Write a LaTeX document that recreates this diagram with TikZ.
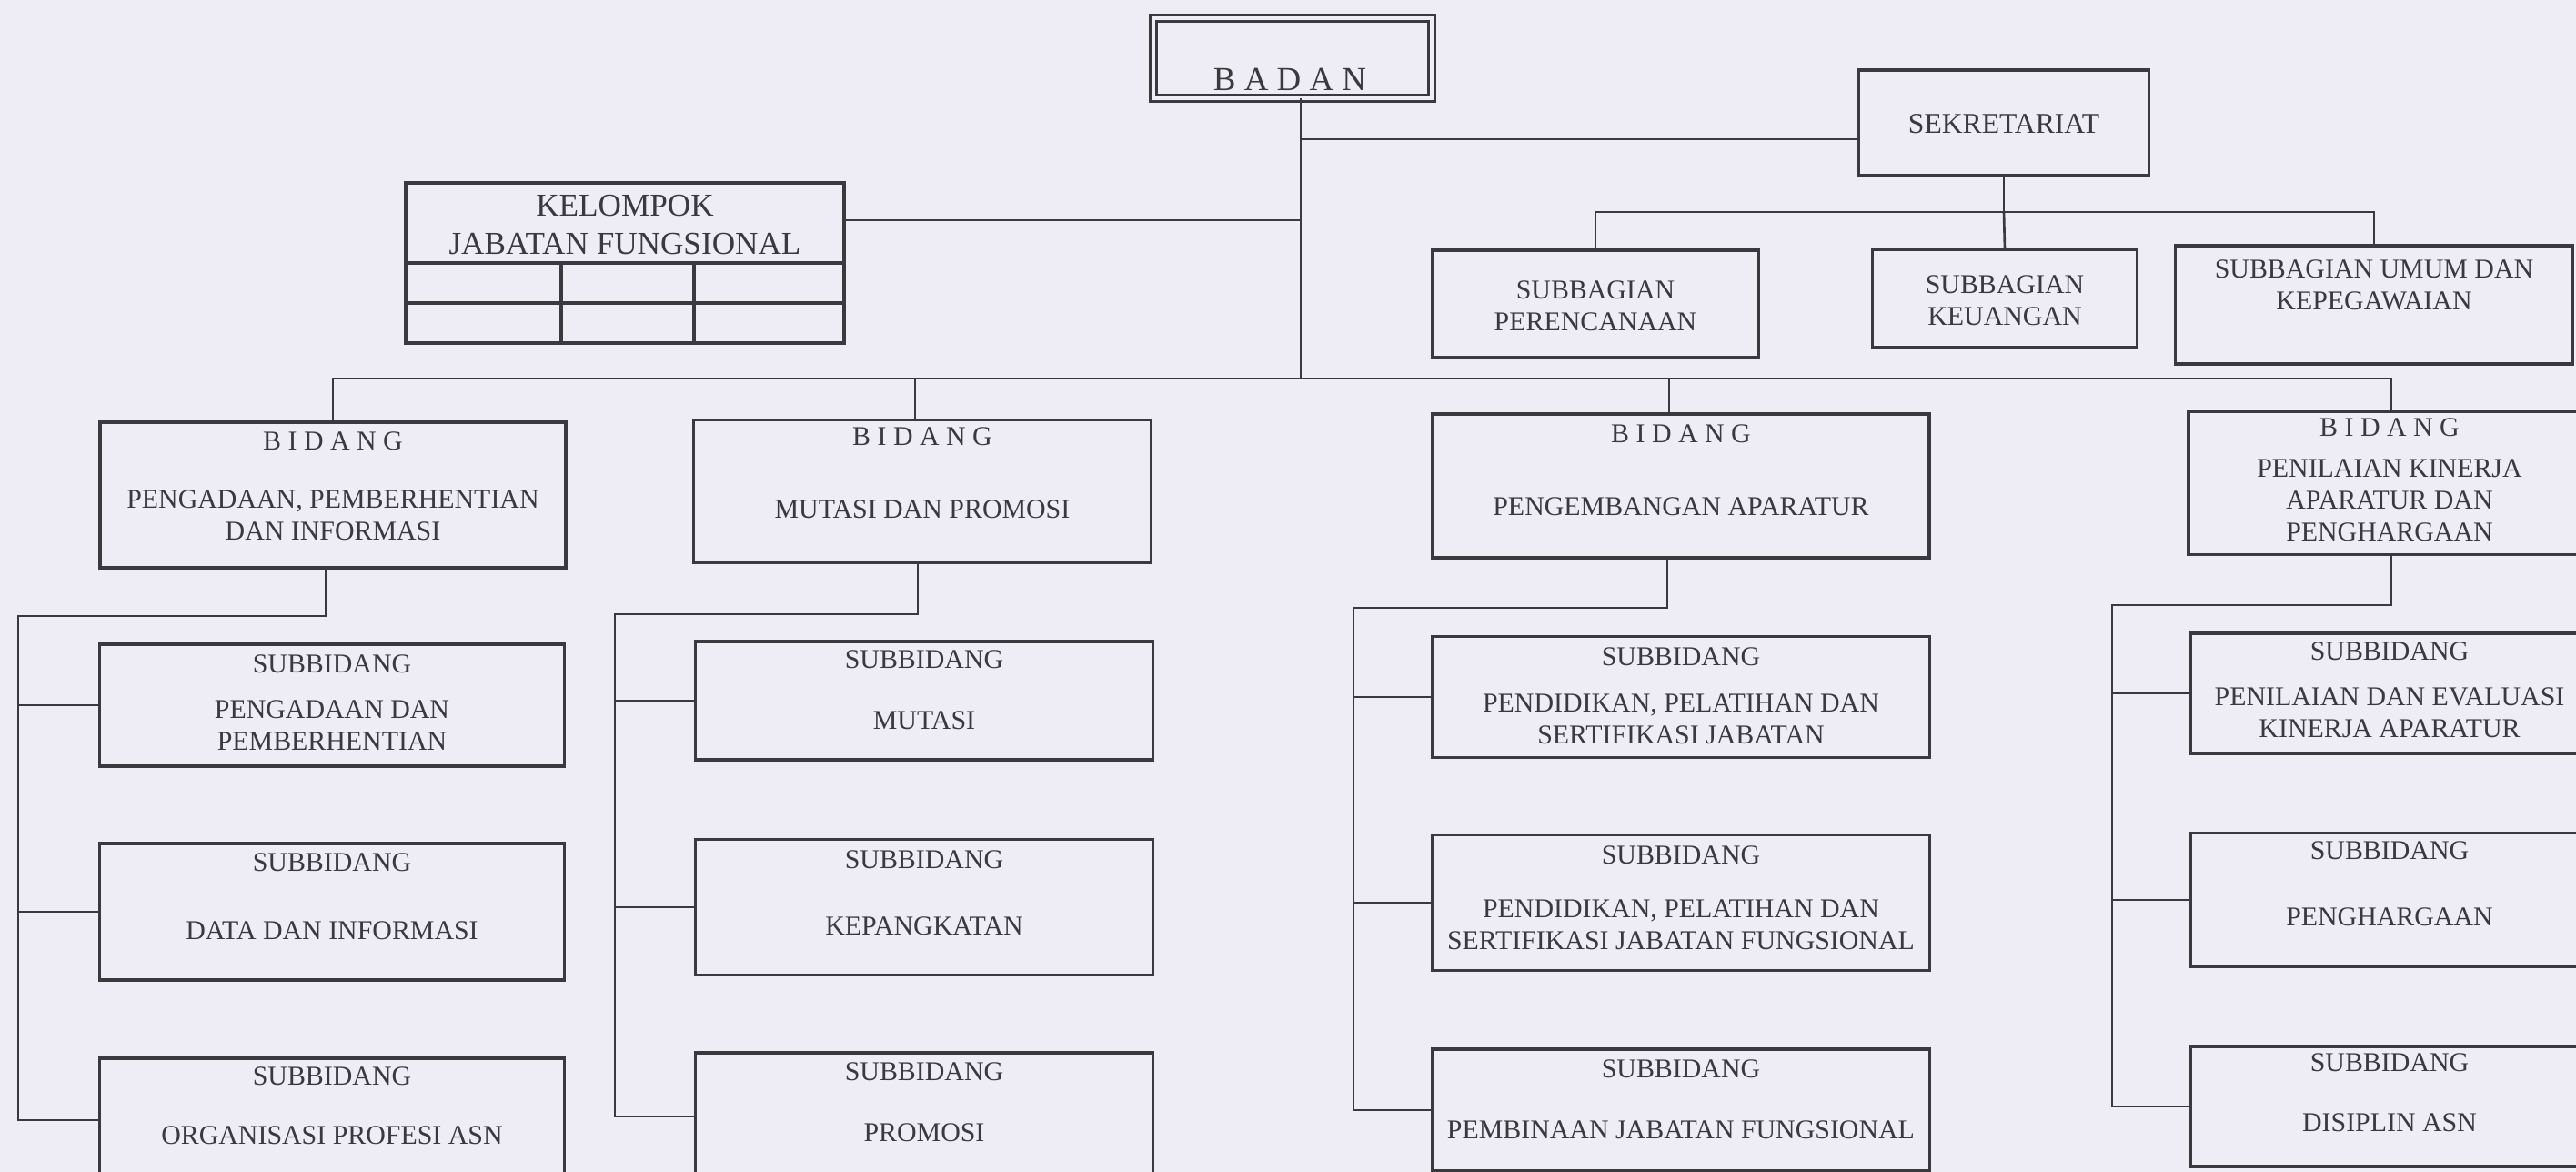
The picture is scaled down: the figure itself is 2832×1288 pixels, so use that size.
\documentclass[tikz,border=0pt]{standalone}
\usepackage{fontspec}
\setmainfont{Liberation Serif}
\definecolor{paper}{RGB}{238,237,245}
\definecolor{ink}{RGB}{58,58,62}

\begin{document}
\begin{tikzpicture}[x=0.01cm, y=-0.01cm,
	box/.style={draw=ink, line width=1pt, inner sep=0pt, outer sep=0pt},
	conn/.style={draw=ink, line width=0.75pt},
	lbl/.style={text=ink, align=center, inner sep=0pt, font=\fontsize{8.5}{10}\selectfont}]

	\path[use as bounding box, fill=paper] (0,0) rectangle (2832,1288);
	\clip (0,0) rectangle (2832,1288);

	% top
	\node[box, double=paper, double distance=1.3pt, line width=0.8pt, minimum width=3.06cm, minimum height=0.88cm] (badan) at (1421,64) {};
	\node[lbl, font=\fontsize{10.5}{12}\selectfont] (badant) at (1418,87) {B A D A N};

	\node[box, minimum width=3.19cm, minimum height=1.16cm] (sek) at (2203,135) {};
	\node[lbl, font=\fontsize{9}{11}\selectfont] (sekt) at (2203,136) {SEKRETARIAT};

	\node[box, minimum width=4.82cm, minimum height=1.76cm] (kjf) at (687,289) {};
	\node[lbl, font=\fontsize{10}{12.2}\selectfont] (kjft) at (687,247) {KELOMPOK\\JABATAN FUNGSIONAL};
	\draw[box] (kjf.west) -- (kjf.east);
	\draw[box] (446,333) -- (928,333);
	\draw[box] (617,289) -- (617,377);
	\draw[box] (763,289) -- (763,377);

	% subbagian
	\node[box, minimum width=3.59cm, minimum height=1.18cm] (sbper) at (1754,334) {};
	\node[lbl] (sbpert) at (1754,336) {SUBBAGIAN\\PERENCANAAN};
	\node[box, minimum width=2.91cm, minimum height=1.08cm] (sbkeu) at (2204,328) {};
	\node[lbl] (sbkeut) at (2204,330) {SUBBAGIAN\\KEUANGAN};
	\node[box, minimum width=4.37cm, minimum height=1.30cm] (sbumum) at (2610,335) {};
	\node[lbl] (sbumumt) at (2610,313) {SUBBAGIAN UMUM DAN\\KEPEGAWAIAN};

	% bidang
	\node[box, minimum width=5.12cm, minimum height=1.60cm] (b1) at (366,544) {};
	\node[lbl] (b1h) at (366,485) {B I D A N G};
	\node[lbl] (b1t) at (366,566) {PENGADAAN, PEMBERHENTIAN\\DAN INFORMASI};

	\node[box, minimum width=5.03cm, minimum height=1.57cm] (b2) at (1014,540) {};
	\node[lbl] (b2h) at (1014,480) {B I D A N G};
	\node[lbl] (b2t) at (1014,560) {MUTASI DAN PROMOSI};

	\node[box, minimum width=5.46cm, minimum height=1.58cm] (b3) at (1848,534) {};
	\node[lbl] (b3h) at (1848,477) {B I D A N G};
	\node[lbl] (b3t) at (1848,557) {PENGEMBANGAN APARATUR};

	\node[box, minimum width=4.46cm, minimum height=1.57cm] (b4) at (2629,531) {};
	\node[lbl] (b4h) at (2627,470) {B I D A N G};
	\node[lbl] (b4t) at (2627,550) {PENILAIAN KINERJA\\APARATUR DAN\\PENGHARGAAN};

	% subbidang
	\node[box, minimum width=5.11cm, minimum height=1.34cm] (s11) at (365,775) {};
	\node[lbl] (s11h) at (365,730) {SUBBIDANG};
	\node[lbl] (s11t) at (365,797) {PENGADAAN DAN\\PEMBERHENTIAN};
	\node[box, minimum width=5.11cm, minimum height=1.50cm] (s12) at (365,1002) {};
	\node[lbl] (s12h) at (365,948) {SUBBIDANG};
	\node[lbl] (s12t) at (365,1023) {DATA DAN INFORMASI};
	\node[box, minimum width=5.11cm, minimum height=1.36cm] (s13) at (365,1231) {};
	\node[lbl] (s13h) at (365,1183) {SUBBIDANG};
	\node[lbl] (s13t) at (365,1248) {ORGANISASI PROFESI ASN};

	\node[box, minimum width=5.03cm, minimum height=1.30cm] (s21) at (1016,770) {};
	\node[lbl] (s21h) at (1016,725) {SUBBIDANG};
	\node[lbl] (s21t) at (1016,792) {MUTASI};
	\node[box, minimum width=5.03cm, minimum height=1.49cm] (s22) at (1016,997) {};
	\node[lbl] (s22h) at (1016,945) {SUBBIDANG};
	\node[lbl] (s22t) at (1016,1018) {KEPANGKATAN};
	\node[box, minimum width=5.03cm, minimum height=1.40cm] (s23) at (1016,1227) {};
	\node[lbl] (s23h) at (1016,1178) {SUBBIDANG};
	\node[lbl] (s23t) at (1016,1245) {PROMOSI};

	\node[box, minimum width=5.47cm, minimum height=1.33cm] (s31) at (1848,766) {};
	\node[lbl] (s31h) at (1848,722) {SUBBIDANG};
	\node[lbl] (s31t) at (1848,790) {PENDIDIKAN, PELATIHAN DAN\\SERTIFIKASI JABATAN};
	\node[box, minimum width=5.47cm, minimum height=1.49cm] (s32) at (1848,992) {};
	\node[lbl] (s32h) at (1848,940) {SUBBIDANG};
	\node[lbl] (s32t) at (1848,1016) {PENDIDIKAN, PELATIHAN DAN\\SERTIFIKASI JABATAN FUNGSIONAL};
	\node[box, minimum width=5.47cm, minimum height=1.34cm] (s33) at (1848,1220) {};
	\node[lbl] (s33h) at (1848,1175) {SUBBIDANG};
	\node[lbl] (s33t) at (1848,1242) {PEMBINAAN JABATAN FUNGSIONAL};

	\node[box, minimum width=4.42cm, minimum height=1.32cm] (s41) at (2629,762) {};
	\node[lbl] (s41h) at (2627,716) {SUBBIDANG};
	\node[lbl] (s41t) at (2627,783) {PENILAIAN DAN EVALUASI\\KINERJA APARATUR};
	\node[box, minimum width=4.42cm, minimum height=1.47cm] (s42) at (2629,989) {};
	\node[lbl] (s42h) at (2627,935) {SUBBIDANG};
	\node[lbl] (s42t) at (2627,1008) {PENGHARGAAN};
	\node[box, minimum width=4.42cm, minimum height=1.32cm] (s43) at (2629,1216) {};
	\node[lbl] (s43h) at (2627,1168) {SUBBIDANG};
	\node[lbl] (s43t) at (2627,1234) {DISIPLIN ASN};

	% lines
	\coordinate (trunk) at (1430,416);
	\coordinate (jsek) at (1430,153);
	\coordinate (jkjf) at (1430,242);
	\coordinate (sbus) at (2203,233);

	\draw[conn] (badan.south -| trunk) -- (trunk);
	\draw[conn] (jsek) -- (sek.west |- jsek);
	\draw[conn] (kjf.east |- jkjf) -- (jkjf);
	\draw[conn] (b1.north) |- (trunk) -| (b4.north);
	\draw[conn] ([xshift=-0.08cm]b2.north) -- ([xshift=-0.08cm]b2.north |- trunk);
	\draw[conn] ([xshift=-0.13cm]b3.north) -- ([xshift=-0.13cm]b3.north |- trunk);

	\draw[conn] (sek.south) -- (sbus);
	\draw[conn] (sbper.north) |- (sbus) -| (sbumum.north);
	\draw[conn] (sbus) -- (sbkeu.north);

	\coordinate (v1) at (20,677);
	\coordinate (v2) at (676,675);
	\coordinate (v3) at (1488,668);
	\coordinate (v4) at (2322,665);

	\draw[conn] ([xshift=-0.08cm]b1.south) |- (v1) |- (s13.west);
	\draw[conn] (v1 |- s11.west) -- (s11.west);
	\draw[conn] (v1 |- s12.west) -- (s12.west);

	\draw[conn] ([xshift=-0.05cm]b2.south) |- (v2) |- (s23.west);
	\draw[conn] (v2 |- s21.west) -- (s21.west);
	\draw[conn] (v2 |- s22.west) -- (s22.west);

	\draw[conn] ([xshift=-0.15cm]b3.south) |- (v3) |- (s33.west);
	\draw[conn] (v3 |- s31.west) -- (s31.west);
	\draw[conn] (v3 |- s32.west) -- (s32.west);

	\draw[conn] (b4.south) |- (v4) |- (s43.west);
	\draw[conn] (v4 |- s41.west) -- (s41.west);
	\draw[conn] (v4 |- s42.west) -- (s42.west);

\end{tikzpicture}
\end{document}
